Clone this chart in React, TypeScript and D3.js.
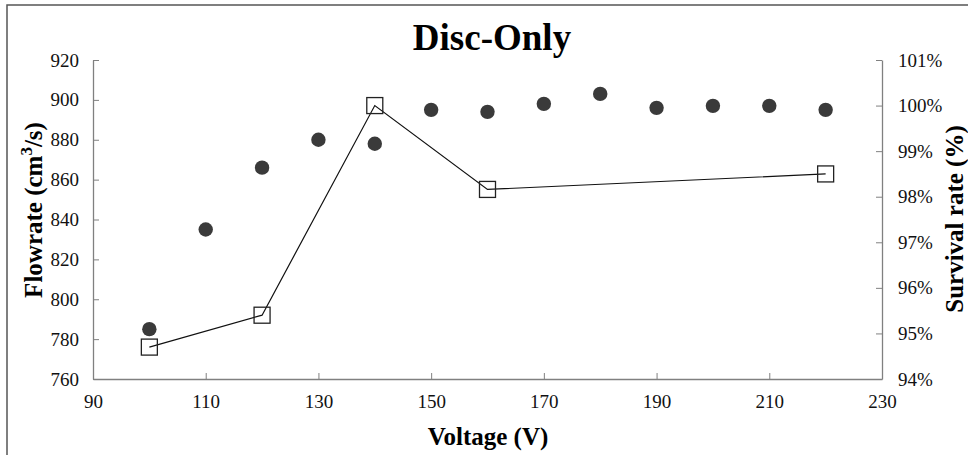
import React, { useRef, useEffect } from 'react';
import * as d3 from 'd3';

// Voltage (V) for each measurement
const voltages = [100, 110, 120, 130, 140, 150, 160, 170, 180, 190, 200, 210, 220];
// Flowrate (cm3/s) - filled circles, left axis
const flowrates = [785, 835, 866, 880, 878, 895, 894, 898, 903, 896, 897, 897, 895];
// Survival rate - open squares joined by a line, right axis
const survivalVoltages = [100, 120, 140, 160, 220];
const survivalRates = [0.947, 0.954, 1.0, 0.9816, 0.985];

const xTicks = [90, 110, 130, 150, 170, 190, 210, 230];
const leftTicks = [760, 780, 800, 820, 840, 860, 880, 900, 920];
const rightTicks = [0.94, 0.95, 0.96, 0.97, 0.98, 0.99, 1.0, 1.01];

const W = 968;
const H = 455;
const serif = '"Liberation Serif", "Times New Roman", serif';

export default function App() {
  const svgRef = useRef<SVGSVGElement>(null);

  useEffect(() => {
    const svg = d3.select(svgRef.current);
    svg.selectAll('*').remove();

    const left = 93, right = 882, top = 60, bottom = 379;

    const x = d3.scaleLinear().domain([90, 230]).range([left, right]);
    const yL = d3.scaleLinear().domain([760, 920]).range([bottom, top]);
    const yR = d3.scaleLinear().domain([0.94, 1.01]).range([bottom, top]);

    // outer frame
    svg.append('rect')
      .attr('x', 7).attr('y', 5)
      .attr('width', W + 10).attr('height', H + 10)
      .attr('fill', 'none')
      .attr('stroke', '#555')
      .attr('stroke-width', 1.5);

    const axisColor = '#808080';

    const styleAxis = (g: d3.Selection<SVGGElement, unknown, null, undefined>) => {
      g.attr('font-family', serif).attr('font-size', 19);
      g.select('.domain').attr('stroke', axisColor).attr('stroke-width', 1.3);
      g.selectAll('line').attr('stroke', axisColor);
      g.selectAll('text').attr('font-family', serif).attr('font-size', 19).attr('fill', '#111');
    };

    // bottom axis
    svg.append('g')
      .attr('transform', `translate(0,${bottom})`)
      .call(d3.axisBottom(x).tickValues(xTicks).tickSizeInner(-6).tickSizeOuter(0).tickPadding(16).tickFormat(d3.format('d')))
      .call(styleAxis);

    // left axis
    svg.append('g')
      .attr('transform', `translate(${left},0)`)
      .call(d3.axisLeft(yL).tickValues(leftTicks).tickSizeInner(-6).tickSizeOuter(0).tickPadding(14).tickFormat(d3.format('d')))
      .call(styleAxis);

    // right axis
    svg.append('g')
      .attr('transform', `translate(${right},0)`)
      .call(d3.axisRight(yR).tickValues(rightTicks).tickSizeInner(-6).tickSizeOuter(0).tickPadding(16).tickFormat(d3.format('.0%')))
      .call(styleAxis);

    // flowrate circles
    svg.append('g').selectAll('circle')
      .data(voltages.map((v, i) => ({ v, f: flowrates[i] })))
      .enter()
      .append('circle')
      .attr('cx', d => x(d.v))
      .attr('cy', d => yL(d.f))
      .attr('r', 7.2)
      .attr('fill', '#3a3a3a');

    // survival line + squares
    const pts = survivalVoltages.map((v, i) => ({ v, s: survivalRates[i] }));
    const line = d3.line<{ v: number; s: number }>()
      .x(d => x(d.v))
      .y(d => yR(d.s));
    svg.append('path')
      .datum(pts)
      .attr('d', line)
      .attr('fill', 'none')
      .attr('stroke', '#111')
      .attr('stroke-width', 1.2);

    const sq = 16;
    svg.append('g').selectAll('rect')
      .data(pts)
      .enter()
      .append('rect')
      .attr('x', d => x(d.v) - sq / 2)
      .attr('y', d => yR(d.s) - sq / 2)
      .attr('width', sq)
      .attr('height', sq)
      .attr('fill', 'none')
      .attr('stroke', '#222')
      .attr('stroke-width', 1.3);

    // title
    svg.append('text')
      .attr('x', 492).attr('y', 50)
      .attr('text-anchor', 'middle')
      .attr('font-family', serif)
      .attr('font-weight', 'bold')
      .attr('font-size', 37)
      .text('Disc-Only');

    // x label
    svg.append('text')
      .attr('x', 488).attr('y', 445)
      .attr('text-anchor', 'middle')
      .attr('font-family', serif)
      .attr('font-weight', 'bold')
      .attr('font-size', 25)
      .text('Voltage (V)');

    // left label
    const ll = svg.append('text')
      .attr('transform', 'translate(42,210) rotate(-90)')
      .attr('text-anchor', 'middle')
      .attr('font-family', serif)
      .attr('font-weight', 'bold')
      .attr('font-size', 25);
    ll.append('tspan').text('Flowrate (cm');
    ll.append('tspan').attr('dy', -10).attr('font-size', 17).text('3');
    ll.append('tspan').attr('dy', 10).text('/s)');

    // right label
    svg.append('text')
      .attr('transform', 'translate(963,219) rotate(-90)')
      .attr('text-anchor', 'middle')
      .attr('font-family', serif)
      .attr('font-weight', 'bold')
      .attr('font-size', 25)
      .text('Survival rate (%)');
  }, []);

  return (
    <svg
      ref={svgRef}
      width={W}
      height={H}
      style={{ position: 'absolute', left: 0, top: 0, background: '#fff' }}
    />
  );
}
